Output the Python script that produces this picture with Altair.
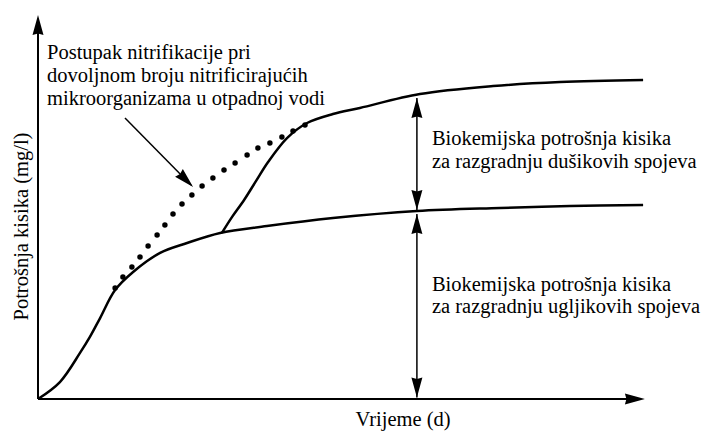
import altair as alt
import pandas as pd

# ---- values (time in days, oxygen demand in mg/l, arbitrary units) ----
# carbonaceous BOD curve
carb_t = [0, 0.73, 1.4, 1.73, 2.07, 2.57, 3.17, 4.07, 4.97, 6.07, 7.63, 9.83, 12.63, 15.4, 17.73, 20.17]
carb_v = [0, 10.6, 28.8, 38.8, 50.6, 68.1, 79.4, 91.3, 97.5, 103.8, 108.1, 113.1, 117.5, 119.4, 120.6, 121.3]

# nitrogenous (total) BOD curve, branching off the carbonaceous one
nit_t = [6.13, 6.47, 6.87, 7.27, 7.67, 8.3, 8.97, 9.83, 10.73, 12.73, 15.17, 17.4, 20.17]
nit_v = [103.8, 113.8, 124.4, 136.3, 148.1, 163.1, 172.5, 178.1, 181.9, 190.6, 195.6, 198.1, 199.4]

# dotted curve: nitrification with enough nitrifying organisms
dot_t = [2.57, 2.83, 3.13, 3.4, 3.67, 3.97, 4.23, 4.5, 4.8, 5.13,
         5.47, 5.83, 6.2, 6.57, 6.97, 7.33, 7.73, 8.13, 8.5, 8.9]
dot_v = [69.4, 76.3, 82.5, 88.8, 95.6, 102.5, 108.8, 115.6, 121.9, 127.5,
         133.1, 138.1, 143.1, 147.5, 152.5, 156.9, 160.0, 163.8, 167.5, 171.3]

# texts
note_lines = ["Postupak nitrifikacije pri",
              "dovoljnom broju nitrificirajućih",
              "mikroorganizama u otpadnoj vodi"]
nitro_lines = ["Biokemijska potrošnja kisika",
               "za razgradnju dušikovih spojeva"]
carbo_lines = ["Biokemijska potrošnja kisika",
               "za razgradnju ugljikovih spojeva"]
x_title = "Vrijeme (d)"
y_title = "Potrošnja kisika (mg/l)"

# ---- figure ----
FONT = "'Liberation Serif', 'Times New Roman', 'DejaVu Serif', serif"
FS = 20.5
xs = alt.Scale(domain=[-1, 22.1333], nice=False, zero=False)
ys = alt.Scale(domain=[-20.625, 244.375], nice=False, zero=False)
X = lambda f: alt.X(f, type="quantitative", scale=xs, axis=None)
Y = lambda f: alt.Y(f, type="quantitative", scale=ys, axis=None)

carb = pd.DataFrame({"t": carb_t, "v": carb_v})
nit = pd.DataFrame({"t": nit_t, "v": nit_v})
dots = pd.DataFrame({"t": dot_t, "v": dot_v})

line_c = alt.Chart(carb).mark_line(interpolate="catmull-rom", color="black", strokeWidth=2.5).encode(x=X("t"), y=Y("v"))
line_n = alt.Chart(nit).mark_line(interpolate="catmull-rom", color="black", strokeWidth=2.5).encode(x=X("t"), y=Y("v"))
pts = alt.Chart(dots).mark_circle(color="black", size=30, opacity=1).encode(x=X("t"), y=Y("v"))

# axes and arrow shafts
axes = pd.DataFrame({"t": [0, 0], "v": [0, 0], "t2": [0, 20.0], "v2": [236, 0]})
shafts = pd.DataFrame({"t": [12.63, 12.63, 2.9], "v": [118.1, 1.0, 175.6],
                       "t2": [12.63, 12.63, 5.1], "v2": [188.1, 115.6, 133.8]})
axis_rules = alt.Chart(axes).mark_rule(color="black", strokeWidth=2).encode(
    x=X("t"), y=Y("v"), x2="t2", y2="v2")
shaft_rules = alt.Chart(shafts).mark_rule(color="black", strokeWidth=1.5).encode(
    x=X("t"), y=Y("v"), x2="t2", y2="v2")

ARROW = "M0,0L0.55,2L0,1.85L-0.55,2Z"
heads = pd.DataFrame({
    "t": [0, 20.23, 12.63, 12.63, 12.63, 12.63, 5.17],
    "v": [240, 0, 188.1, 118.1, 115.6, 1.0, 132.5],
    "ang": [0, 90, 0, 180, 0, 180, 135],
})
arrowheads = alt.Chart(heads).mark_point(shape=ARROW, filled=True, size=400, color="black",
                                         strokeWidth=0, opacity=1).encode(
    x=X("t"), y=Y("v"), angle=alt.Angle("ang:Q", scale=None))

labels = pd.DataFrame({
    "t": [0.3, 0.3, 0.3, 13.13, 13.13, 13.13, 13.13],
    "v": [212.5, 198.1, 183.8, 158.8, 144.4, 67.5, 53.8],
    "text": note_lines + nitro_lines + carbo_lines,
})
texts = alt.Chart(labels).mark_text(font=FONT, fontSize=FS, align="left", baseline="alphabetic",
                                    color="black").encode(x=X("t"), y=Y("v"), text="text:N")

xt = alt.Chart(pd.DataFrame({"t": [12.17], "v": [-16.9], "text": [x_title]})).mark_text(
    font=FONT, fontSize=FS, align="center", baseline="alphabetic", color="black").encode(
    x=X("t"), y=Y("v"), text="text:N")
yt = alt.Chart(pd.DataFrame({"t": [-0.33], "v": [107.8], "text": [y_title]})).mark_text(
    font=FONT, fontSize=FS, align="center", baseline="alphabetic", angle=270, color="black").encode(
    x=X("t"), y=Y("v"), text="text:N")

chart = alt.layer(axis_rules, shaft_rules, arrowheads, line_c, line_n, pts, texts, xt, yt).properties(
    width=694, height=424, padding=0, background="white",
    autosize=alt.AutoSizeParams(type="none"),
).configure_view(stroke=None)

chart.save("out.html", embed_options={"renderer": "svg", "actions": False})
